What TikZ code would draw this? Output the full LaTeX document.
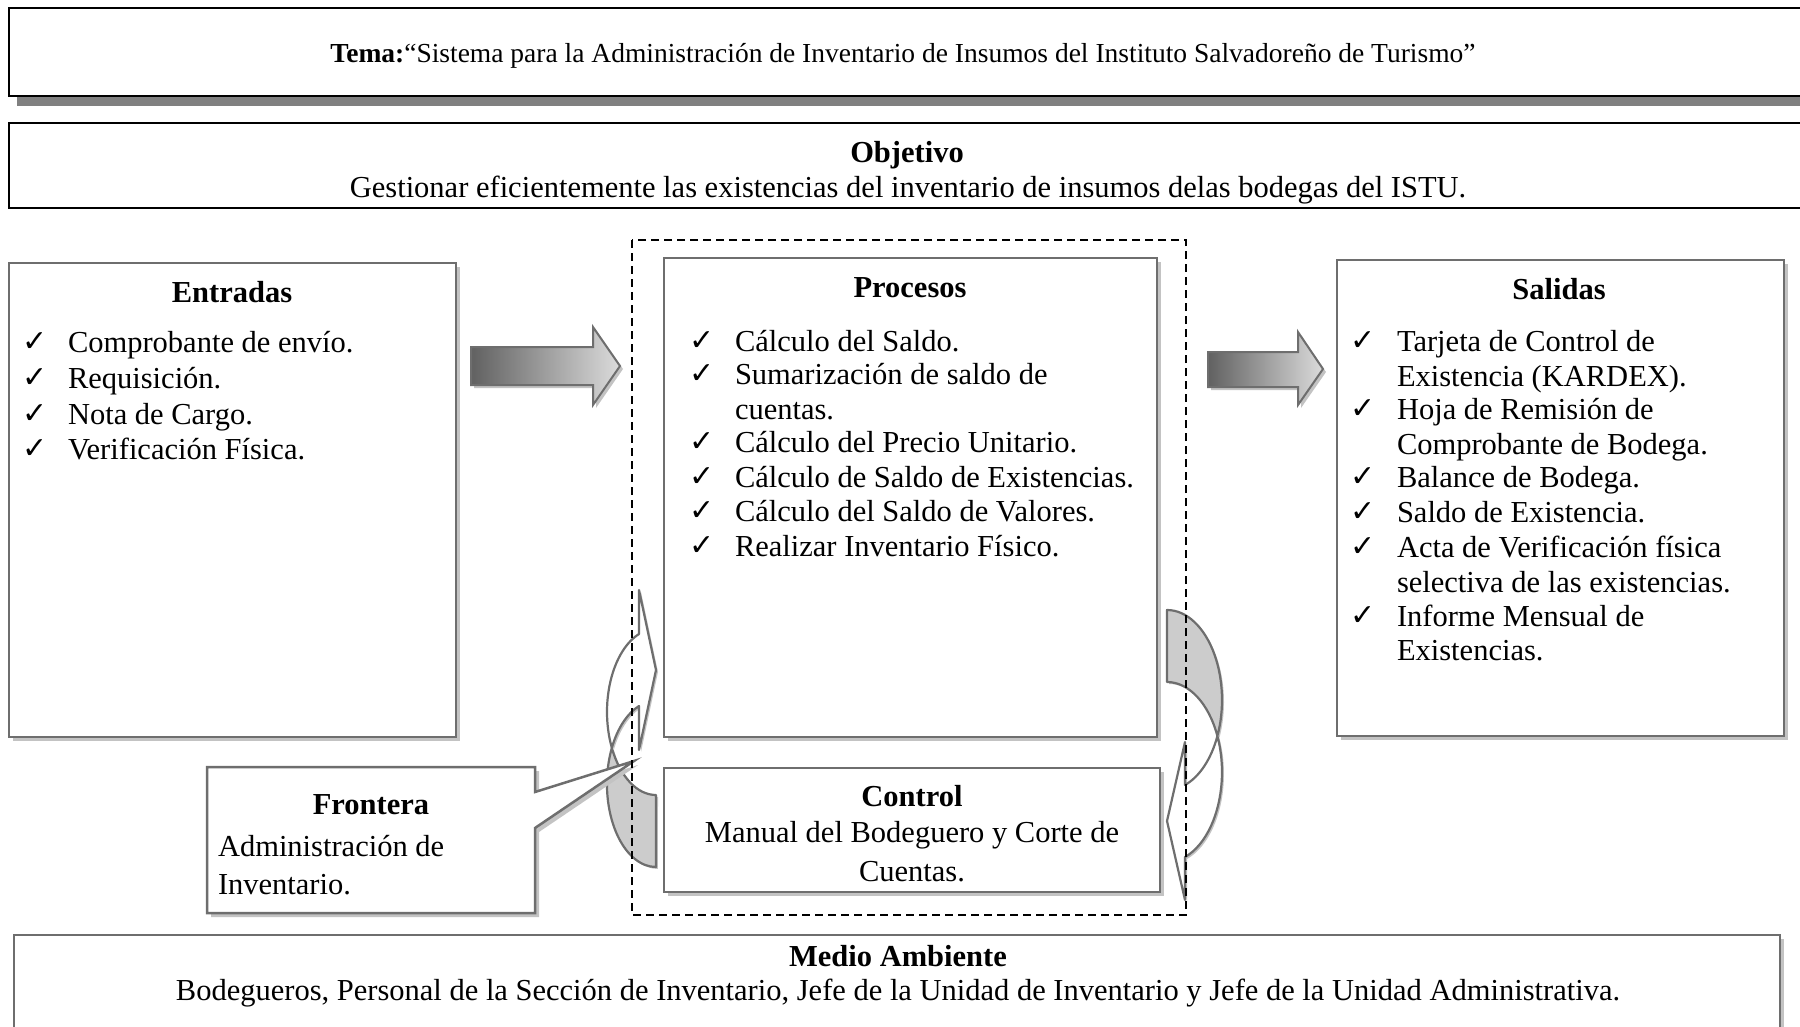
\documentclass[tikz,border=0pt]{standalone}
\usepackage{fontspec}
\setmainfont{Liberation Serif}
\newfontfamily\symFont{DejaVu Sans}
\usetikzlibrary{shadows}

\definecolor{boxGray}{RGB}{110,110,110}
\definecolor{shadeGray}{RGB}{195,195,195}
\definecolor{backGray}{RGB}{204,204,204}
\newcommand{\chk}{{\symFont\fontsize{30}{30}\selectfont ✓}}

\begin{document}
\begin{tikzpicture}[x=1pt, y=-1pt,
        every node/.style={inner sep=0pt, outer sep=0pt, font=\fontsize{30.5}{34}\selectfont}]
        \tikzstyle{frameBox} = [draw=black, line width=2.5pt, fill=white]
        \tikzstyle{panelBox} = [draw=boxGray, line width=2.5pt, fill=white,
            drop shadow={shadow xshift=4pt, shadow yshift=-4pt, fill=shadeGray, opacity=1}]
        \tikzstyle{blockArrow} = [draw=boxGray, line width=2pt, left color=black!62, right color=black!14,
            drop shadow={shadow xshift=3pt, shadow yshift=-3pt, fill=shadeGray, opacity=1}]
        \tikzstyle{bandArrow} = [draw=boxGray, line width=2.2pt, line join=round,
            drop shadow={shadow xshift=2pt, shadow yshift=-2pt, fill=shadeGray, opacity=1}]
        \tikzstyle{lineText} = [anchor=base west]
        \tikzstyle{checkText} = [anchor=base west, yshift=0.5pt]
        \tikzstyle{midText} = [anchor=base]
        \tikzstyle{headText} = [anchor=base, font=\fontsize{30.5}{34}\selectfont\bfseries]
        \useasboundingbox (0,0) rectangle (1800,1026);
        \clip (0,0) rectangle (1800,1026);

        \fill[black!50] (17,96) rectangle (1815,106);
        \node[frameBox, anchor=north west, minimum width=1806pt, minimum height=88pt] (temaBox) at (9,8) {};
        \node[midText, font=\fontsize{27.5}{32}\selectfont] (tema) at (903,62)
            {\textbf{Tema:}“Sistema para la Administración de Inventario de Insumos del Instituto Salvadoreño de Turismo”};
        \node[frameBox, anchor=north west, minimum width=1806pt, minimum height=85pt] (objetivoBox) at (9,123) {};
        \node[headText] (objetivo) at (907,162) {Objetivo};
        \node[midText] (objetivoText) at (908,197)
            {Gestionar eficientemente las existencias del inventario de insumos delas bodegas del ISTU.};

        \node[panelBox, anchor=north west, minimum width=447pt, minimum height=474pt] (entradas) at (9,263) {};
        \node[panelBox, anchor=north west, minimum width=493pt, minimum height=479pt] (procesos) at (664,258) {};
        \node[panelBox, anchor=north west, minimum width=447pt, minimum height=476pt] (salidas) at (1337,260) {};
        \node[panelBox, anchor=north west, minimum width=496pt, minimum height=124pt] (control) at (664,768) {};
        \node[panelBox, anchor=north west, minimum width=1766pt, minimum height=120pt] (medio) at (14,935) {};

        \draw[blockArrow] (471,347) -- (593,347) -- (593,327) -- (620,366) -- (593,405) -- (593,385) -- (471,385) -- cycle;
        \draw[blockArrow] (1208,352) -- (1298,352) -- (1298,332) -- (1323,369) -- (1298,405) -- (1298,387) -- (1208,387) -- cycle;

        \filldraw[bandArrow, fill=backGray] (611.8,748) arc[start angle=205.7, end angle=90, x radius=49, y radius=83]
            -- (656,795) arc[start angle=90, end angle=154.3, x radius=49, y radius=83] -- cycle;
        \filldraw[bandArrow, fill=white] (639,634) arc[start angle=249.7, end angle=154.3, x radius=49, y radius=83]
            arc[start angle=205.7, end angle=249.7, x radius=49, y radius=83]
            -- (639,750) -- (656,670) -- (639,590) -- cycle;
        \filldraw[bandArrow, fill=backGray] (1167,610) arc[start angle=-90, end angle=23.58, x radius=55, y radius=90]
            arc[start angle=-23.58, end angle=-90, x radius=55, y radius=90] -- cycle;
        \filldraw[bandArrow, fill=white] (1217.4,736) arc[start angle=-23.58, end angle=70.9, x radius=55, y radius=90]
            -- (1185,900) -- (1167,821) -- (1185,742) -- (1185,785)
            arc[start angle=70.9, end angle=23.58, x radius=55, y radius=90] -- cycle;

        \draw[panelBox] (207,767) -- (535,767) -- (535,792) -- (634,761) -- (535,828) -- (535,913) -- (207,913) -- cycle;

        \draw[line width=1.5pt, dash pattern=on 8pt off 5pt] (632,240) rectangle (1186,915);

        \node[headText] (entradasHead) at (232,302) {Entradas};
        \foreach \y/\txt [count=\i] in {352/{Comprobante de envío.}, 388/{Requisición.},
                                        424/{Nota de Cargo.}, 459/{Verificación Física.}} {
            \node[checkText] (entradasChk-\i) at (22,\y) {\chk};
            \node[lineText] (entradas-\i) at (68,\y) {\txt};
        }

        \node[headText] (procesosHead) at (910,297) {Procesos};
        \foreach \y/\txt [count=\i] in {351/{Cálculo del Saldo.}, 384/{Sumarización de saldo de}, 419/{cuentas.},
                                        452/{Cálculo del Precio Unitario.}, 487/{Cálculo de Saldo de Existencias.},
                                        521/{Cálculo del Saldo de Valores.}, 556/{Realizar Inventario Físico.}}
            \node[lineText] (procesos-\i) at (735,\y) {\txt};
        \foreach \y [count=\i] in {351,384,452,487,521,556}
            \node[checkText] (procesosChk-\i) at (689,\y) {\chk};

        \node[headText] (salidasHead) at (1559,299) {Salidas};
        \foreach \y/\txt [count=\i] in {351/{Tarjeta de Control de}, 386/{Existencia (KARDEX).},
                                        419/{Hoja de Remisión de}, 454/{Comprobante de Bodega.},
                                        487/{Balance de Bodega.}, 522/{Saldo de Existencia.},
                                        557/{Acta de Verificación física}, 592/{selectiva de las existencias.},
                                        626/{Informe Mensual de}, 660/{Existencias.}}
            \node[lineText] (salidas-\i) at (1397,\y) {\txt};
        \foreach \y [count=\i] in {351,419,487,522,557,626}
            \node[checkText] (salidasChk-\i) at (1350,\y) {\chk};

        \node[headText] (fronteraHead) at (371,814) {Frontera};
        \node[lineText] (frontera-1) at (218,856) {Administración de};
        \node[lineText] (frontera-2) at (218,894) {Inventario.};

        \node[headText] (controlHead) at (912,806) {Control};
        \node[midText] (control-1) at (912,842) {Manual del Bodeguero y Corte de};
        \node[midText] (control-2) at (912,881) {Cuentas.};

        \node[headText] (medioHead) at (898,966) {Medio Ambiente};
        \node[midText] (medioText) at (898,1000)
            {Bodegueros, Personal de la Sección de Inventario, Jefe de la Unidad de Inventario y Jefe de la Unidad Administrativa.};
    \end{tikzpicture}
\end{document}
